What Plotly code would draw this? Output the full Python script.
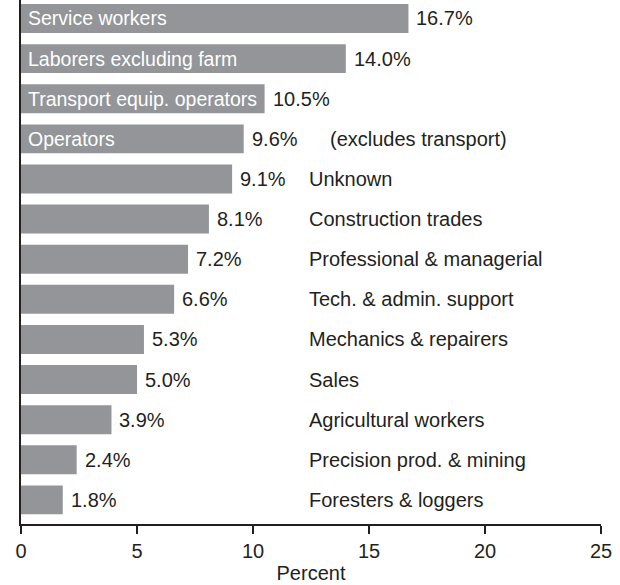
import plotly.graph_objects as go

categories = ["Service workers", "Laborers excluding farm", "Transport equip. operators",
              "Operators", "Unknown", "Construction trades", "Professional & managerial",
              "Tech. & admin. support", "Mechanics & repairers", "Sales",
              "Agricultural workers", "Precision prod. & mining", "Foresters & loggers"]
values = [16.7, 14.0, 10.5, 9.6, 9.1, 8.1, 7.2, 6.6, 5.3, 5.0, 3.9, 2.4, 1.8]
inside_label = [True, True, True, True, False, False, False, False, False, False, False, False, False]
x_ticks = [0, 5, 10, 15, 20, 25]

# bottom-to-top order for plotting
cats_rev = categories[::-1]
vals_rev = values[::-1]
inside_rev = inside_label[::-1]
ypos = list(range(len(cats_rev)))

FONT = "Liberation Sans, Arial, sans-serif"
TXT = "#231f20"
FS = 20

fig = go.Figure()
fig.add_trace(go.Bar(
    x=vals_rev, y=ypos, orientation="h",
    marker=dict(color="#939598", line=dict(width=0)),
    width=0.72, hoverinfo="skip",
))

annotations = []
for y, cat, v, ins in zip(ypos, cats_rev, vals_rev, inside_rev):
    annotations.append(dict(x=v, y=y, xref="x", yref="y", text=f"{v:.1f}%",
                            showarrow=False, xanchor="left", xshift=6,
                            font=dict(family=FONT, size=FS, color=TXT)))
    if ins:
        annotations.append(dict(x=0, y=y, xref="x", yref="y", text=cat,
                                showarrow=False, xanchor="left", xshift=5,
                                font=dict(family=FONT, size=19.5, color="white")))
    else:
        annotations.append(dict(x=12.41, y=y, xref="x", yref="y", text=cat,
                                showarrow=False, xanchor="left", xshift=-2,
                                font=dict(family=FONT, size=FS, color=TXT)))
# note for Operators
annotations.append(dict(x=13.32, y=ypos[cats_rev.index("Operators")], xref="x", yref="y",
                        text="(excludes transport)", showarrow=False, xanchor="left", xshift=-2,
                        font=dict(family=FONT, size=FS, color=TXT)))

fig.update_layout(
    width=620, height=585,
    margin=dict(l=21, r=19, t=0, b=61),
    paper_bgcolor="white", plot_bgcolor="white",
    showlegend=False,
    annotations=annotations,
    xaxis=dict(range=[0, 25], tickvals=x_ticks, ticktext=[str(t) for t in x_ticks],
               showgrid=False, zeroline=False, showline=True, linecolor="#231f20",
               linewidth=2, ticks="outside", ticklen=8, tickwidth=2, tickcolor="#231f20",
               tickfont=dict(family=FONT, size=FS, color=TXT),
               title=dict(text="Percent", font=dict(family=FONT, size=FS, color=TXT), standoff=5),
               fixedrange=True),
    yaxis=dict(range=[-0.6, 12.46], showticklabels=False, showgrid=False, zeroline=False,
               showline=True, linecolor="#231f20", linewidth=2, ticks="", fixedrange=True),
)

fig.write_html("out.html", config={"displayModeBar": False},
               post_script="document.body.style.margin='0';")
